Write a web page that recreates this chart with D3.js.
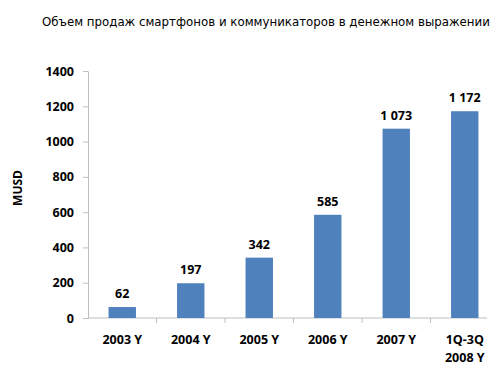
<!DOCTYPE html>
<html lang="ru">
<head>
<meta charset="utf-8">
<title>Объем продаж</title>
<script src="https://d3js.org/d3.v7.min.js"></script>
<style>
  body { margin: 0; background: #fff; }
  .title { font-family: "DejaVu Sans", sans-serif; font-size: 11.8px; fill: #000; }
  .tick text { font-family: "Open Sans", sans-serif; font-weight: bold; font-size: 12.5px; fill: #000; }
  .vals { font-family: "Open Sans", sans-serif; font-weight: bold; font-size: 12.5px; fill: #000; }
  .ylab { font-family: "Open Sans", sans-serif; font-weight: bold; font-size: 12px; fill: #000; }
</style>
</head>
<body>
<div id="chart"></div>
<script>
const w = 504, h = 378;

const categories = [["2003 Y"], ["2004 Y"], ["2005 Y"], ["2006 Y"], ["2007 Y"], ["1Q-3Q", "2008 Y"]];
const sales = [62, 197, 342, 585, 1073, 1172];
const yTicks = [0, 200, 400, 600, 800, 1000, 1200, 1400];

const svg = d3.select("#chart").append("svg")
  .attr("width", w).attr("height", h);

const x = d3.scaleBand()
  .domain(categories.map((c, i) => i))
  .range([88, 499])
  .paddingInner(0.6)
  .paddingOuter(0.3);

const y = d3.scaleLinear().domain([0, 1400]).range([318, 71]);

// title
svg.append("text").attr("class", "title")
  .attr("x", 42).attr("y", 26)
  .text("Объем продаж смартфонов и коммуникаторов в денежном выражении");

// y axis
const yAxis = svg.append("g").attr("transform", "translate(88,0)")
  .call(d3.axisLeft(y).tickValues(yTicks).tickFormat(d3.format("d"))
    .tickSize(5).tickPadding(9).tickSizeOuter(0));
yAxis.selectAll("line, path").attr("stroke", "#bfbfbf");

// x axis
const step = x.step();
const xAxis = svg.append("g").attr("transform", "translate(0,318)");
xAxis.append("line")
  .attr("x1", 88).attr("x2", 487)
  .attr("stroke", "#bfbfbf");
xAxis.selectAll(".tk")
  .data(categories.slice(1))
  .join("line")
  .attr("x1", (d, i) => x(i + 1) - step * 0.3)
  .attr("x2", (d, i) => x(i + 1) - step * 0.3)
  .attr("y1", 0).attr("y2", 5)
  .attr("stroke", "#bfbfbf");

const labels = xAxis.selectAll(".tick")
  .data(categories)
  .join("g").attr("class", "tick")
  .attr("transform", (d, i) => `translate(${x(i) + x.bandwidth() / 2},0)`);
labels.append("text")
  .attr("text-anchor", "middle")
  .selectAll("tspan")
  .data(d => d)
  .join("tspan")
  .attr("x", 0)
  .attr("y", (d, i) => 26 + i * 18)
  .text(d => d);

// bars
svg.selectAll(".bar")
  .data(sales)
  .join("rect").attr("class", "bar")
  .attr("x", (d, i) => x(i))
  .attr("width", x.bandwidth())
  .attr("y", d => y(d))
  .attr("height", d => y(0) - y(d))
  .attr("fill", "#4f81bd");

// value labels
svg.selectAll(".vals")
  .data(sales)
  .join("text").attr("class", "vals")
  .attr("x", (d, i) => x(i) + x.bandwidth() / 2)
  .attr("y", d => y(d) - 9)
  .attr("text-anchor", "middle")
  .text(d => d3.format(",")(d).replace(/,/g, " "));

// y label
svg.append("text").attr("class", "ylab")
  .attr("transform", "translate(22,188) rotate(-90)")
  .attr("text-anchor", "middle")
  .text("MUSD");
</script>
</body>
</html>
